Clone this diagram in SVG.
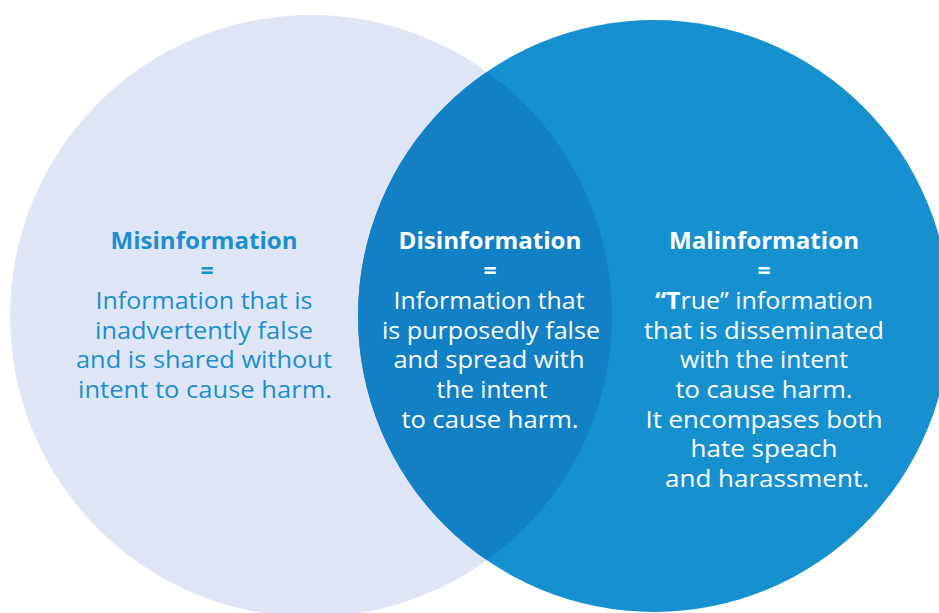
<svg xmlns="http://www.w3.org/2000/svg" width="939" height="613" viewBox="0 0 939 613">
<style>
.t{font-family:"Open Sans","Liberation Sans",sans-serif;font-size:23px;font-weight:500;text-anchor:middle}
.b{font-weight:bold}
.blue{fill:#1A8FD0}
.w{fill:#FFFFFF}
</style>
<defs>
<clipPath id="clipL"><circle cx="311" cy="316" r="301"/></clipPath>
</defs>
<rect width="939" height="613" fill="#FFFFFF"/>
<g id="misinformation">
<circle cx="311" cy="316" r="301" fill="#DFE5F4"/>
</g>
<g id="malinformation">
<circle cx="654" cy="316" r="296" fill="#1790D0"/>
</g>
<g id="disinformation">
<circle cx="654" cy="316" r="296" fill="#1280C5" clip-path="url(#clipL)"/>
</g>
<g id="text-mis" class="t blue">
<text x="204" y="249" class="b" textLength="187" lengthAdjust="spacingAndGlyphs">Misinformation</text>
<text x="207" y="279" class="b">=</text>
<text x="204" y="309" textLength="217" lengthAdjust="spacingAndGlyphs">Information that is</text>
<text x="204" y="339" textLength="218" lengthAdjust="spacingAndGlyphs">inadvertently false</text>
<text x="204" y="368" textLength="256" lengthAdjust="spacingAndGlyphs">and is shared without</text>
<text x="205" y="398" textLength="254" lengthAdjust="spacingAndGlyphs">intent to cause harm.</text>
</g>
<g id="text-dis" class="t w">
<text x="490" y="249" class="b" textLength="183" lengthAdjust="spacingAndGlyphs">Disinformation</text>
<text x="490" y="279" class="b">=</text>
<text x="489" y="309" textLength="191" lengthAdjust="spacingAndGlyphs">Information that</text>
<text x="491" y="339" textLength="218" lengthAdjust="spacingAndGlyphs">is purposedly false</text>
<text x="489" y="368" textLength="191" lengthAdjust="spacingAndGlyphs">and spread with</text>
<text x="492" y="398" textLength="111" lengthAdjust="spacingAndGlyphs">the intent</text>
<text x="490" y="428" textLength="177" lengthAdjust="spacingAndGlyphs">to cause harm.</text>
</g>
<g id="text-mal" class="t w">
<text x="764" y="249" class="b" textLength="190" lengthAdjust="spacingAndGlyphs">Malinformation</text>
<text x="764" y="279" class="b">=</text>
<text x="764" y="309" textLength="218" lengthAdjust="spacingAndGlyphs"><tspan class="b">“T</tspan>rue” information</text>
<text x="764" y="339" textLength="240" lengthAdjust="spacingAndGlyphs">that is disseminated</text>
<text x="764" y="368" textLength="168" lengthAdjust="spacingAndGlyphs">with the intent</text>
<text x="764" y="398" textLength="177" lengthAdjust="spacingAndGlyphs">to cause harm.</text>
<text x="764" y="428" textLength="237" lengthAdjust="spacingAndGlyphs">It encompases both</text>
<text x="764" y="457" textLength="147" lengthAdjust="spacingAndGlyphs">hate speach</text>
<text x="767" y="487" textLength="204" lengthAdjust="spacingAndGlyphs">and harassment.</text>
</g>
</svg>
